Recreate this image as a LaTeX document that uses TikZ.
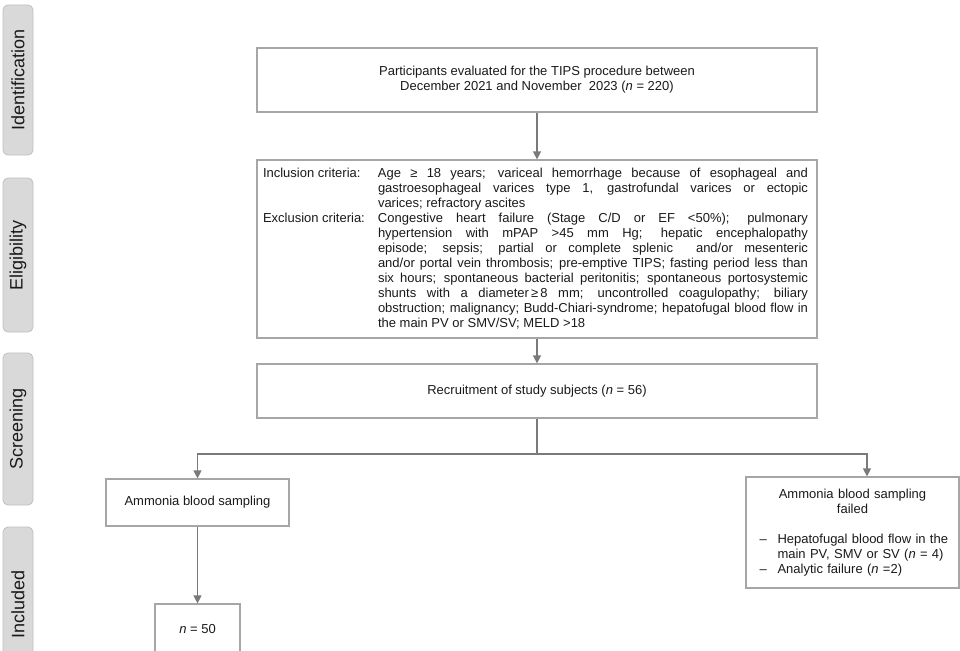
\documentclass[tikz,border=0pt]{standalone}
\usepackage{fontspec}
\setmainfont{Liberation Sans}
\usetikzlibrary{arrows.meta}
\definecolor{boxgray}{HTML}{A6A6A6}
\definecolor{linegray}{HTML}{7A7A7A}
\definecolor{sidefill}{HTML}{D9D9D9}
\definecolor{sideborder}{HTML}{C0C0C0}
\definecolor{txt}{HTML}{1A1A1A}
\begin{document}
\begin{tikzpicture}[x=1pt,y=-1pt,
  every node/.style={text=txt, font=\fontsize{13}{15}\selectfont},
  box/.style={draw=boxgray, line width=1.2pt, inner sep=0pt, align=center},
  side/.style={draw=sideborder, fill=sidefill, rounded corners=5pt, line width=0.8pt,
    rotate=90, minimum height=30pt, inner sep=0pt, font=\fontsize{18}{20}\selectfont},
  arr/.style={draw=linegray, line width=1.2pt, -{Triangle[length=8pt,width=8pt]}},
  conn/.style={draw=linegray, line width=1.2pt}]
\useasboundingbox (0,0) rectangle (960,650);
\clip (0,0) rectangle (960,650);
\fill[white] (0,0) rectangle (960,650);

% side labels
\node[side, minimum width=150pt] (sid) at (18,80) {Identification};
\node[side, minimum width=154pt] (sel) at (18,255) {Eligibility};
\node[side, minimum width=152pt] (sscr) at (18,429) {Screening};
\node[side, minimum width=154pt] (sinc) at (18,604) {Included};

% boxes
\node[box, minimum width=560pt, minimum height=64pt] (top) at (537,80)
  {Participants evaluated for the TIPS procedure between\\December 2021 and November\ \ 2023 (\textit{n} = 220)};

\node[box, minimum width=560pt, minimum height=178pt] (elig) at (537,249)
  {\begin{tabular}{@{}p{115pt}@{}p{430pt}@{\hspace{3pt}}}
   Inclusion criteria: & Age ≥ 18 years; variceal hemorrhage because of esophageal and\linebreak
   gastroesophageal varices type 1, gastrofundal varices or ectopic\linebreak
   varices; refractory ascites\\
   Exclusion criteria: & Congestive heart failure (Stage C/D or EF <50\%); pulmonary\linebreak
   hypertension with mPAP >45 mm Hg; hepatic encephalopathy\linebreak
   episode; sepsis; partial or complete splenic\ \ and/or mesenteric\linebreak
   and/or portal vein thrombosis; pre-emptive TIPS; fasting period less than\linebreak
   six hours; spontaneous bacterial peritonitis; spontaneous portosystemic\linebreak
   shunts with a diameter\,≥\,8 mm; uncontrolled coagulopathy; biliary\linebreak
   obstruction; malignancy; Budd-Chiari-syndrome; hepatofugal blood flow in\linebreak
   the main PV or SMV/SV; MELD >18
   \end{tabular}};

\node[box, minimum width=560pt, minimum height=54pt] (rec) at (537,391)
  {Recruitment of study subjects (\textit{n} = 56)};

\node[box, minimum width=183pt, minimum height=47pt] (left) at (197.5,502.5)
  {Ammonia blood sampling};

\node[box, minimum width=213pt, minimum height=111pt, text width=186pt, align=left] (right) at (852.5,532.5)
  {{\centering Ammonia blood sampling\\failed\par}\vspace{15pt}\raggedright
   \mbox{\makebox[18pt][l]{–}Hepatofugal blood flow in the}\\
   \mbox{\hspace*{18pt}main PV, SMV or SV (\textit{n} = 4)}\\
   \mbox{\makebox[18pt][l]{–}Analytic failure (\textit{n} =2)}};

\node[box, minimum width=85pt, minimum height=50pt] (n50) at (197.5,629)
  {\textit{n} = 50};

% connectors
\coordinate (split) at (537,454);
\coordinate (rturn) at (867,454);
\draw[arr] (top.south) -- (elig.north);
\draw[arr] (elig.south) -- (rec.north);
\draw[conn] (rec.south) -- (split);
\draw[arr] (split) -| (left.north);
\draw[arr] (split) -- (rturn) -- (rturn |- right.north);
\draw[arr] (left.south) -- (n50.north);
\end{tikzpicture}
\end{document}
